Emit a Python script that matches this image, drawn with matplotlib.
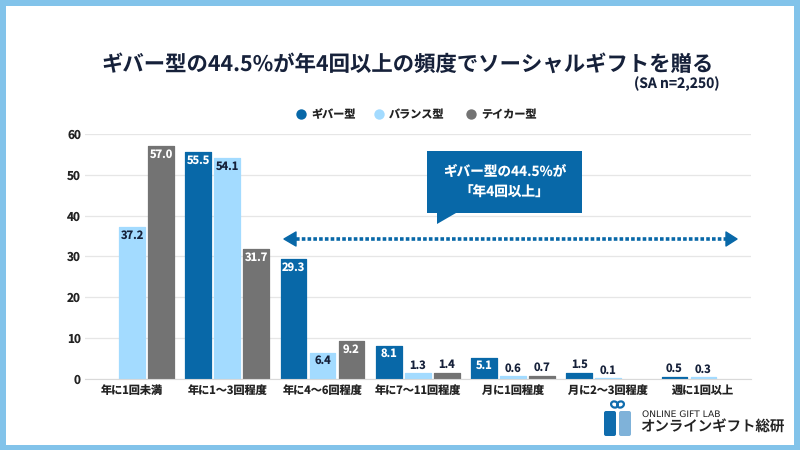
import matplotlib
matplotlib.use("Agg")
import matplotlib.pyplot as plt
from matplotlib.patches import Ellipse, FancyBboxPatch, Rectangle, Polygon

plt.rcParams['font.family'] = ['Noto Sans CJK JP', 'DejaVu Sans']
plt.rcParams['text.hinting'] = 'none'

categories = ['年に1回未満', '年に1〜3回程度', '年に4〜6回程度', '年に7〜11回程度',
              '月に1回程度', '月に2〜3回程度', '週に1回以上']
giver = [None, 55.5, 29.3, 8.1, 5.1, 1.5, 0.5]
balance = [37.2, 54.1, 6.4, 1.3, 0.6, 0.1, 0.3]
taker = [57.0, 31.7, 9.2, 1.4, 0.7, None, None]
series_names = ['ギバー型', 'バランス型', 'テイカー型']
yticks = [0, 10, 20, 30, 40, 50, 60]

BLUE = '#0868a8'
LIGHT = '#a3dbff'
GRAY = '#737373'
FRAME = '#82c3ea'
INK = '#16213a'

W, H = 800, 450
fig = plt.figure(figsize=(8, 4.5), dpi=100, facecolor=FRAME)

# white card, drawn in pixels
bg = fig.add_axes([0, 0, 1, 1])
bg.set_xlim(0, W)
bg.set_ylim(H, 0)
bg.axis('off')
bg.add_patch(Rectangle((6, 6), 788, 439, color='white', lw=0))

# title block
bg.text(408, 64.5, 'ギバー型の44.5%が年4回以上の頻度でソーシャルギフトを贈る',
        ha='center', va='center', fontsize=15.4, fontweight='bold', color=INK)
bg.text(677, 84, '(SA n=2,250)', ha='center', va='center', fontsize=10,
        fontweight='bold', color=INK)

# legend
leg_x = [301, 379, 471]
for x, name, c in zip(leg_x, series_names, [BLUE, LIGHT, GRAY]):
    bg.scatter([x], [114], s=56, color=c, lw=0)
    bg.text(x + 10, 114.5, name, ha='left', va='center', fontsize=8,
            fontweight='bold', color='#222222')

# chart
left, right, top, bottom = 84.5, 751, 134, 378.7
ax = fig.add_axes([left / W, 1 - bottom / H, (right - left) / W, (bottom - top) / H])
ax.patch.set_alpha(0)
ax.set_xlim(-0.5, 6.5)
ax.set_ylim(0, 60)
ax.set_yticks(yticks)
ax.set_xticks(range(7))
ax.set_xticklabels(categories, fontsize=8, fontweight='bold', color='#222222')
ax.tick_params(axis='both', length=0)
ax.tick_params(axis='x', pad=4.5)
ax.tick_params(axis='y', pad=2.5, labelsize=8.5, labelcolor='#222222')
for lab in ax.get_yticklabels():
    lab.set_fontweight('bold')
ax.grid(axis='y', color='#e6e6e6', lw=0.9)
ax.set_axisbelow(True)
for s in ['top', 'right', 'left']:
    ax.spines[s].set_visible(False)
ax.spines['bottom'].set_color('#d9d9d9')

bw = 0.27
step = 0.3045
for off, vals, c, tc in [(-step, giver, BLUE, 'white'),
                         (0, balance, LIGHT, INK),
                         (step, taker, GRAY, 'white')]:
    for i, v in enumerate(vals):
        if v is None:
            continue
        # round edge join gives the soft top corners
        ax.bar(i + off, v, width=bw, color=c, edgecolor=c, lw=0.9, joinstyle='round', zorder=2)
        inside = v > 3
        ax.annotate(f'{v:.1f}', (i + off, v), xytext=(0, -5.8 if inside else 5.8),
                    textcoords='offset points', ha='center', va='center', fontsize=8,
                    fontweight='bold', color=tc if inside else INK, zorder=3)

# dotted arrow and callout on top, in pixels
over = fig.add_axes([0, 0, 1, 1])
over.set_xlim(0, W)
over.set_ylim(H, 0)
over.axis('off')
over.patch.set_alpha(0)
over.plot([296, 726], [239, 239], color=BLUE, lw=2.6, ls=(0, (1, 0.6)), zorder=3)
over.add_patch(Polygon([[284, 239], [296, 232], [296, 246]], facecolor=BLUE, edgecolor=BLUE,
                       lw=1, joinstyle='round'))
over.add_patch(Polygon([[737, 239], [726, 232], [726, 246]], facecolor=BLUE, edgecolor=BLUE,
                       lw=1, joinstyle='round'))
over.add_patch(Polygon([[427, 151], [582, 151], [582, 213], [456, 213], [437, 224],
                        [437, 213], [427, 213]], color=BLUE, lw=0))
over.text(504.5, 172, 'ギバー型の44.5%が', ha='center', va='center', color='white',
          fontsize=9.8, fontweight='bold')
over.text(504.5, 192.5, '「年4回以上」', ha='center', va='center', color='white',
          fontsize=9.8, fontweight='bold')

# logo
over.add_patch(FancyBboxPatch((604, 411), 12, 25, boxstyle='round,pad=0,rounding_size=2',
                              color='#0f6cad', lw=0))
over.add_patch(FancyBboxPatch((619, 411), 12, 25, boxstyle='round,pad=0,rounding_size=2',
                              color='#7fb2d9', lw=0))
over.add_patch(Ellipse((614.5, 404.5), 7, 6, angle=25, facecolor='none',
                       edgecolor='#0f6cad', lw=1.6))
over.add_patch(Ellipse((620.5, 404.5), 7, 6, angle=-25, facecolor='none',
                       edgecolor='#0f6cad', lw=1.6))
over.text(641.5, 414, 'ONLINE GIFT LAB', ha='left', va='center', fontsize=6.6,
          family='DejaVu Sans', color='#222222')
over.text(640, 427.5, 'オンラインギフト総研', ha='left', va='center', fontsize=10.4,
          fontweight='medium', color='#222222')

fig.savefig('out.png', dpi=100, facecolor=FRAME)
